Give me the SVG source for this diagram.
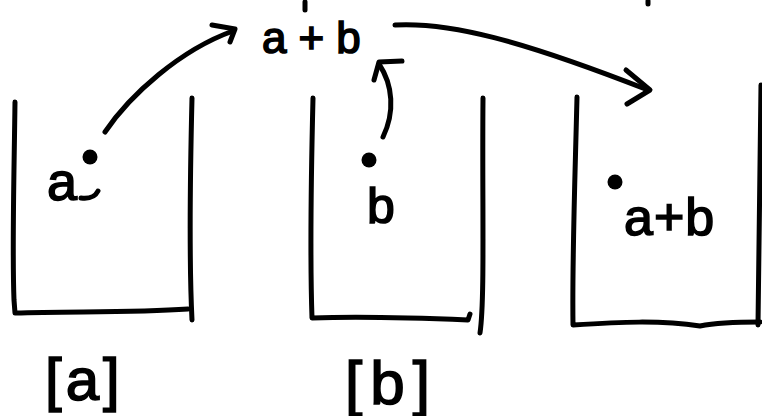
<svg xmlns="http://www.w3.org/2000/svg" width="762" height="416" viewBox="0 0 762 416">
<style>
.ink{fill:none;stroke:#000;stroke-width:5;stroke-linecap:round;stroke-linejoin:round}
.dot{fill:#000}
.t{font-family:"Liberation Sans","DejaVu Sans",sans-serif;fill:#000;stroke:#000;stroke-width:1.6}
</style>
<rect width="762" height="416" fill="#fff"/>
<g id="ticks">
<path class="ink" d="M305,2 L305,10" stroke-width="3"/>
<path class="ink" d="M648,1 L648,4" stroke-width="3"/>
</g>
<g id="box-a">
<path class="ink" d="M15,102 C14,180 12,250 14,300 L15,313 C70,311 130,313 188,309"/>
<path class="ink" d="M192,98 C190,180 189,260 192,320"/>
<circle class="dot" cx="90" cy="157" r="7.5"/>
<text class="t" x="47" y="200" font-size="54">a</text>
<path class="ink" d="M81,198 C89,199 95,197 98,191" stroke-width="4"/>
<text class="t" x="45" y="400" font-size="60" letter-spacing="4">[a]</text>
</g>
<g id="box-b">
<path class="ink" d="M313,98 C311,180 310,260 312,318 C370,316 420,318 468,320 L470,314"/>
<path class="ink" d="M483,98 C482,200 485,300 480,333"/>
<circle class="dot" cx="369" cy="160" r="7.5"/>
<text class="t" x="367" y="223" font-size="50">b</text>
<text class="t" x="345" y="404" font-size="62" letter-spacing="8">[b]</text>
</g>
<g id="box-sum">
<path class="ink" d="M577,97 C575,180 572,260 573,325 C620,322 660,320 700,326 C720,322 740,322 760,322"/>
<path class="ink" d="M761,85 L758,325"/>
<circle class="dot" cx="615" cy="182" r="7.5"/>
<text class="t" x="624" y="235" font-size="52" letter-spacing="1">a+b</text>
</g>
<g id="sum-top">
<text class="t" x="262" y="53" font-size="44" letter-spacing="12">a+b</text>
</g>
<g id="connectors">
<path class="ink" d="M105,132 C130,95 180,50 233,31"/>
<path class="ink" d="M212,25 L235,29 L230,42"/>
<path class="ink" d="M383,137 C395,112 393,85 379,64"/>
<path class="ink" d="M374,80 L379,62 L402,61"/>
<path class="ink" d="M395,25 C450,22 520,40 648,90"/>
<path class="ink" d="M626,70 L650,90 L627,104"/>
</g>
</svg>
